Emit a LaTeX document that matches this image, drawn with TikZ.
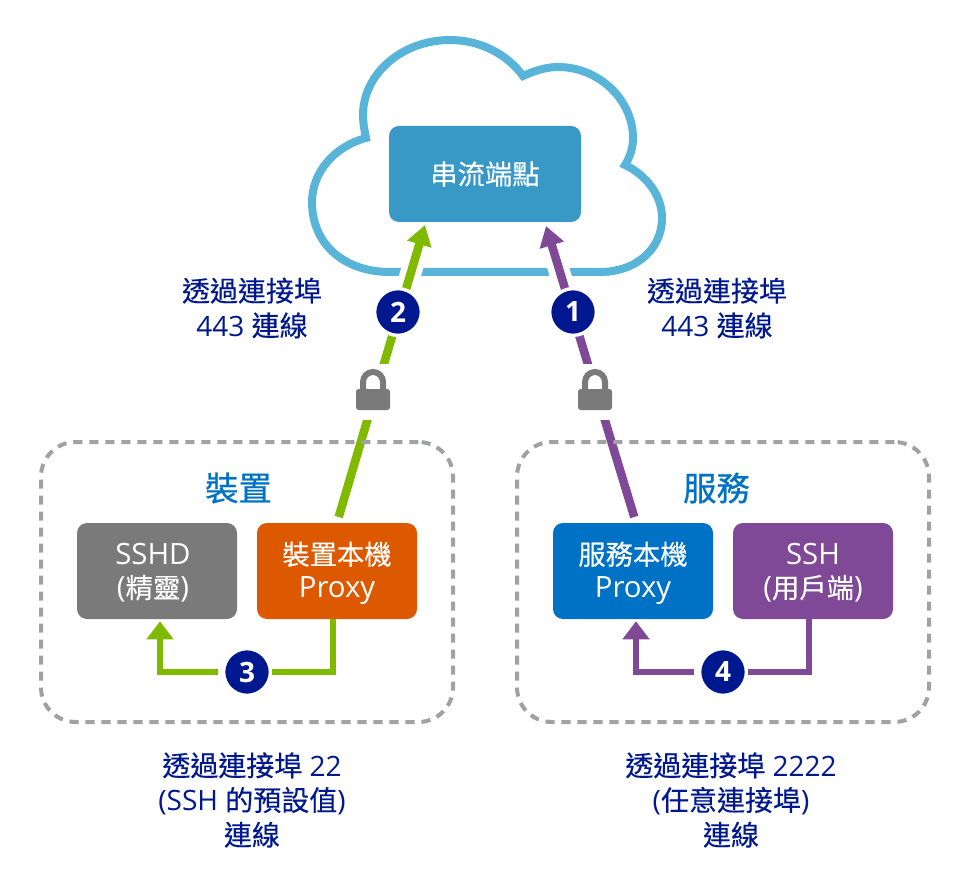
\documentclass[tikz,border=0pt]{standalone}
\usepackage{fontspec}
\usepackage{xcolor}
\usetikzlibrary{calc, arrows.meta, backgrounds}
\setmainfont{Open Sans}
\newfontfamily\cjkfont[FakeBold=0.25]{Noto Sans CJK TC}
\newfontfamily\cjkheavy[FakeBold=0.7]{Noto Sans CJK TC}
\newcommand{\zh}[1]{{\cjkfont #1}}
\newcommand{\zhbox}[1]{{\fontsize{20.5}{24.75}\cjkfont #1}}
\definecolor{cloudblue}{HTML}{59B4D9}
\definecolor{endblue}{HTML}{3999C6}
\definecolor{azblue}{HTML}{0072C6}
\definecolor{azgreen}{HTML}{7FBA00}
\definecolor{azpurple}{HTML}{804998}
\definecolor{azorange}{HTML}{DD5900}
\definecolor{azgray}{HTML}{7A7A7A}
\definecolor{dashgray}{HTML}{A0A1A2}
\definecolor{navy}{HTML}{00188F}
\begin{document}
\begin{tikzpicture}[x=0.75pt, y=-0.75pt,
    box/.style={fill=#1, rounded corners=7.5pt, minimum height=72pt, inner sep=0pt},
    boxtext/.style={text=white, align=center, inner sep=0pt, yshift=-1.6pt,
      font=\fontsize{22}{24.75}\selectfont},
    caption/.style={text=navy, align=center, inner sep=0pt, font=\fontsize{21}{26}\selectfont},
    badge/.style={circle, fill=navy, draw=white, line width=2.5pt, minimum size=35pt, inner sep=0pt,
      text=white, font=\fontsize{21}{24}\selectfont\bfseries},
    updatalink/.style={#1, line width=6.4pt, shorten <=4.5pt,
      -{Triangle[length=15pt, width=18pt]}},
    downlink/.style={#1, line width=4.5pt, shorten <=3pt, shorten >=1.5pt,
      -{Triangle[length=13.5pt, width=19.5pt]}},
    casing/.style={white, line width=16pt}]
  \useasboundingbox (0,0) rectangle (973,887);
  % Boxes
  \node[box=endblue, minimum width=144pt, label={[boxtext, yshift=1.6pt]center:\zhbox{串流端點}}] (endpoint) at (485,174) {};
  \node[box=azgray, minimum width=120pt, label={[boxtext, xshift=-3pt]center:SSHD\\(\zhbox{精靈})}] (sshd) at (157,571) {};
  \node[box=azorange, minimum width=120pt, label={[boxtext]center:\zhbox{裝置本機}\\Proxy}] (dproxy) at (337,571) {};
  \node[box=azblue, minimum width=120pt, label={[boxtext]center:\zhbox{服務本機}\\Proxy}] (sproxy) at (633,571) {};
  \node[box=azpurple, minimum width=120pt, label={[boxtext]center:SSH\\(\zhbox{用戶端})}] (sshc) at (813,571) {};
  % Groups
  \foreach \name/\x/\tx/\title in {device/247/238.5/裝置, service/723/716.5/服務} {
    \node[draw=dashgray, line width=3pt, dash pattern=on 6.8pt off 5.2pt, rounded corners=26pt,
      minimum width=309pt, minimum height=210pt, outer sep=0pt] (\name) at (\x,582) {};
    \node[text=azblue, inner sep=0pt, font=\fontsize{25}{30}\selectfont] (\name-title) at (\tx,488) {\cjkheavy\title};
  }
  % Numbers
  \foreach \i/\x/\y in {1/573/312, 2/398/312, 3/247/672, 4/723/672} {
    \node[badge] (badge\i) at (\x,\y) {\i};
  }
  % Locks
  \foreach \name/\x in {lockD/373, lockS/595} {
    \node[fill=white, minimum width=33pt, minimum height=42pt, inner sep=0pt] (\name) at (\x,392) {};
    \node[fill=azgray, rounded corners=2pt, minimum width=25.5pt, minimum height=15.75pt,
      inner sep=0pt, outer sep=0pt] (\name-body) at (\x,399.5) {};
    \draw[azgray, line width=4.5pt] ([xshift=-7.5pt]\name-body.north) -- ++(0,-7) arc (180:360:10) -- ++(0,7);
  }
  % Captions
  \node[caption] (portL) at (252,308) {\zh{透過連接埠}\\443 \zh{連線}};
  \node[caption] (portR) at (717,308) {\zh{透過連接埠}\\443 \zh{連線}};
  \node[caption] (portD) at (252,800) {\zh{透過連接埠} 22\\(SSH \zh{的預設值})\\\zh{連線}};
  \node[caption] (portS) at (731,800) {\zh{透過連接埠} 2222\\(\zh{任意連接埠})\\\zh{連線}};
  \coordinate (greentip) at (425,225);
  \coordinate (purpletip) at (546,226);
  \begin{scope}[on background layer]
    % Cloud
    \draw[cloudblue, line width=6pt] (390,272)
      .. controls (345,272) and (312,245) .. (312,202)
      .. controls (312,172) and (335,146) .. (366,138)
      .. controls (364,128) and (363,122) .. (363,115)
      .. controls (363,74) and (402,40) .. (450,40)
      .. controls (480,40) and (507,54) .. (523,76)
      .. controls (534,71) and (546,67) .. (558,67)
      .. controls (599,67) and (633,100) .. (633,138)
      .. controls (633,148) and (630,157) .. (625,165)
      .. controls (646,175) and (662,195) .. (662,218)
      .. controls (662,250) and (635,272) .. (600,272) -- cycle;
    % Tunnels to the endpoint
    \draw[casing] ($(dproxy.north)!0.80!(greentip)$) -- ($(dproxy.north)!0.88!(greentip)$);
    \draw[casing] ($(sproxy.north)!0.80!(purpletip)$) -- ($(sproxy.north)!0.88!(purpletip)$);
    \draw[updatalink=azgreen] (dproxy.north) -- (greentip);
    \draw[updatalink=azpurple] ([xshift=2.25pt]sproxy.north) -- (purpletip);
    % Local links
    \draw[downlink=azgreen] ([xshift=-3pt]dproxy.south) |- (badge3) -| ([xshift=2.25pt]sshd.south);
    \draw[downlink=azpurple] ([xshift=-3pt]sshc.south) |- (badge4) -| ([xshift=2.25pt]sproxy.south);
  \end{scope}
\end{tikzpicture}
\end{document}
